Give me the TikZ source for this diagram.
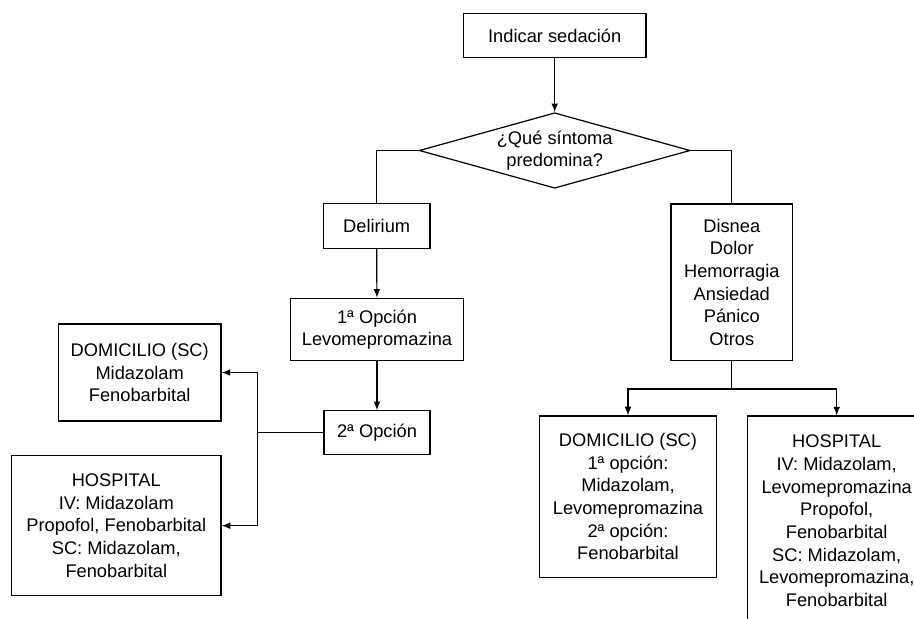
\documentclass[tikz,border=0pt]{standalone}
\usepackage{fontspec}
\setmainfont{Liberation Sans}
\usetikzlibrary{shapes.geometric}

\tikzset{
  caja/.style={draw, line width=0.7pt, align=center, inner sep=1pt,
    font=\fontsize{10.4}{12.9}\selectfont},
  rombo/.style={draw, line width=0.7pt, shape=diamond, aspect=3.58, inner sep=0pt,
    align=center, font=\fontsize{10.4}{12.9}\selectfont},
  linea/.style={line width=0.7pt},
  flecha/.style={line width=0.7pt, -latex}
}

\begin{document}
\begin{tikzpicture}[x=0.02cm, y=-0.02cm]
\clip (0,0) rectangle (914,619);
\fill [white] (0,0) rectangle (914,619);

\node [caja, minimum width=3.65cm, minimum height=0.89cm] (indicar) at (554.7,35.5) {Indicar sedación};
\node [rombo, minimum width=5.42cm, minimum height=1.51cm] (sintoma) at (554.7,150.5) {¿Qué síntoma\\predomina?};
\node [caja, minimum width=2.13cm, minimum height=0.89cm] (delirium) at (376.7,226) {Delirium};
\node [caja, minimum width=2.43cm, minimum height=3.13cm] (disnea) at (731.8,282.3) {Disnea\\Dolor\\Hemorragia\\Ansiedad\\Pánico\\Otros};
\node [caja, minimum width=3.45cm, minimum height=1.25cm] (opcion1) at (377,329.5) {1ª Opción\\Levomepromazina};
\node [caja, minimum width=2.12cm, minimum height=0.87cm] (opcion2) at (377,432.5) {2ª Opción};
\node [caja, minimum width=3.25cm, minimum height=1.94cm] (domizq) at (139.7,372.5) {DOMICILIO (SC)\\Midazolam\\Fenobarbital};
\node [caja, minimum width=4.19cm, minimum height=2.8cm] (hospizq) at (116.3,525.7) {HOSPITAL\\IV: Midazolam\\Propofol, Fenobarbital\\SC: Midazolam,\\Fenobarbital};
\node [caja, minimum width=3.55cm, minimum height=3.23cm] (domder) at (628,496.7) {DOMICILIO (SC)\\1ª opción:\\Midazolam,\\Levomepromazina\\2ª opción:\\Fenobarbital};
\node [caja, minimum width=3.58cm, minimum height=4.19cm] (hospder) at (836.7,520.8) {HOSPITAL\\IV: Midazolam,\\Levomepromazina\\Propofol,\\Fenobarbital\\SC: Midazolam,\\Levomepromazina,\\Fenobarbital};

\coordinate (ramaizq) at (257.3,432.5);
\coordinate (ramader) at (731.8,389);

\draw [flecha] (indicar) -- (sintoma.north);
\draw [linea] (sintoma.west) -| (delirium.north);
\draw [linea] (sintoma.east) -| (disnea.north);
\draw [flecha] (delirium) -- (opcion1);
\draw [flecha] (opcion1) -- (opcion2);
\draw [linea] (opcion2.west) -- (ramaizq);
\draw [flecha] (ramaizq) |- (domizq.east);
\draw [flecha] (ramaizq) |- (hospizq.east);
\draw [linea] (disnea.south) -- (ramader);
\draw [flecha] (ramader) -| (domder.north);
\draw [flecha] (ramader) -| (hospder.north);
\end{tikzpicture}
\end{document}
